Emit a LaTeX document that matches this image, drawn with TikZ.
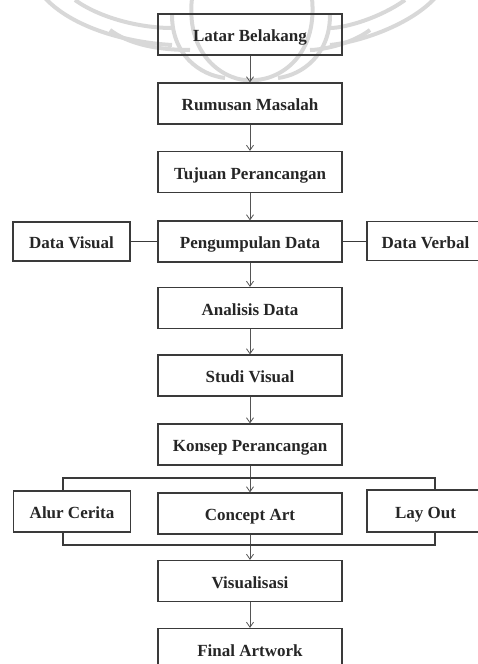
\documentclass[tikz,border=0pt]{standalone}
\usepackage{fontspec}
\setmainfont{Liberation Serif}
\usetikzlibrary{arrows.meta}
\definecolor{boxline}{HTML}{3A3A3A}
\definecolor{arrline}{HTML}{555555}
\definecolor{wm}{HTML}{D8D8D8}
\tikzset{
  stepbox/.style={draw=boxline, line width=1.2pt, fill=none, minimum width=184pt, minimum height=41pt, inner sep=0pt,
    text height=14pt, text depth=0pt,
    font=\fontsize{17}{19}\selectfont\bfseries, text=black!85},
  sidebox/.style={stepbox, minimum width=117pt},
  flow/.style={draw=arrline, line width=0.8pt, -{Straight Barb[length=5pt,width=7pt,line width=0.8pt]}},
  link/.style={draw=boxline, line width=1.2pt},
  wmark/.style={draw=wm, line width=4pt}
}
\begin{document}
\begin{tikzpicture}[x=1pt,y=-1pt]
\useasboundingbox (0,0) rectangle (477,664);
% watermark (faint logo)
\draw[wmark] (192,-2) .. controls (185,60) and (230,82) .. (250,80) .. controls (275,82) and (318,60) .. (312,-2);
\draw[wmark] (172,15) .. controls (172,55) and (200,75) .. (225,78);
\draw[wmark] (330,15) .. controls (330,55) and (302,75) .. (278,78);
\draw[wmark] (45,-2) .. controls (70,25) and (120,42) .. (172,45);
\draw[wmark] (75,0) .. controls (100,18) and (140,28) .. (172,28);
\draw[wmark] (110,30) .. controls (130,45) and (160,50) .. (190,50);
\draw[wmark] (435,-2) .. controls (410,25) and (360,42) .. (330,45);
\draw[wmark] (405,0) .. controls (380,18) and (345,28) .. (330,28);
\draw[wmark] (370,30) .. controls (350,45) and (320,50) .. (310,50);
% main steps
\node[stepbox] (lb) at (250,34.5) {Latar Belakang};
\node[stepbox] (rm) at (250,103.5) {Rumusan Masalah};
\node[stepbox] (tp) at (250,172) {Tujuan Perancangan};
\node[stepbox] (pd) at (250,241.5) {Pengumpulan Data};
\node[stepbox] (ad) at (250,308) {Analisis Data};
\node[stepbox] (sv) at (250,375.5) {Studi Visual};
\node[stepbox] (kp) at (250,444.5) {Konsep Perancangan};
\node[stepbox] (ca) at (250,513.5) {Concept Art};
\node[stepbox] (vi) at (250,581) {Visualisasi};
\node[stepbox] (fa) at (250,649) {Final Artwork};
% side boxes
\node[sidebox, minimum height=39pt] (dvis) at (71.5,241.5) {Data Visual};
\node[sidebox, minimum height=39pt] (dverb) at (425.5,241) {Data Verbal};
\node[sidebox] (ac) at (72,511.5) {Alur Cerita};
\node[sidebox, minimum height=42pt] (lo) at (425.5,511) {Lay Out};
% bracket coordinates
\coordinate (tl) at (63,478);
\coordinate (tr) at (435,478);
\coordinate (bl) at (63,545);
\coordinate (br) at (435,545);
% arrows
\draw[flow] (lb) -- (rm);
\draw[flow] (rm) -- (tp);
\draw[flow] (tp) -- (pd);
\draw[flow] (pd) -- (ad);
\draw[flow] (ad) -- (sv);
\draw[flow] (sv) -- (kp);
\draw[flow] (kp) -- (ca);
\draw[flow] (ca) -- (vi);
\draw[flow] (vi) -- (fa);
% links
\draw[link] (pd.west) -- (dvis.east);
\draw[link] (pd.east) -- (dverb.west |- pd.east);
\draw[link] (ac.north -| tl) -- (tl) -- (tr) -- (lo.north -| tr);
\draw[link] (ac.south -| bl) -- (bl) -- (br) -- (lo.south -| br);
\end{tikzpicture}
\end{document}
